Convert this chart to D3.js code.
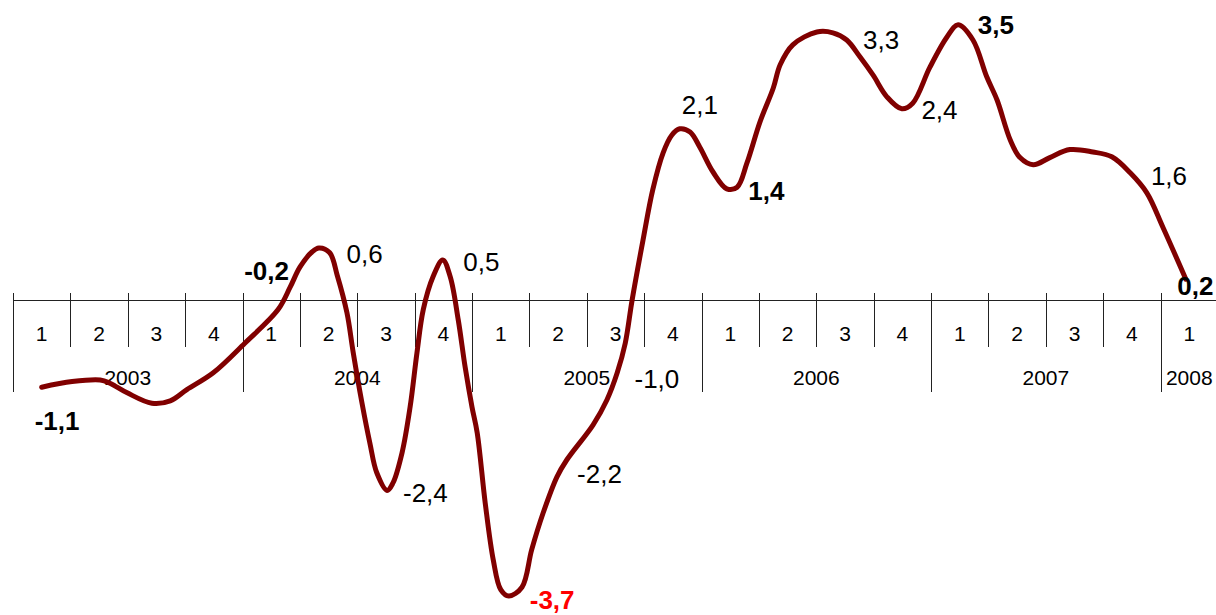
<!DOCTYPE html>
<html>
<head>
<meta charset="utf-8">
<script src="https://cdn.jsdelivr.net/npm/d3@7"></script>
<style>
  body { margin: 0; background: #fff; }
  svg { display: block; font-family: "Liberation Sans", Arial, sans-serif; }
</style>
</head>
<body>
<div id="chart"></div>
<script>
// years on the axis and how many quarters each one shows
const years = ["2003", "2004", "2005", "2006", "2007", "2008"];
const quartersPerYear = [4, 4, 4, 4, 4, 1];

// traced line: position in quarters from start of 2003, and value
const traceQ = [0.5, 1.03, 1.52, 1.69, 1.99, 2.42, 2.74, 3.03, 3.49, 4.04, 4.62, 4.83, 5.0, 5.21, 5.33,
  5.52, 5.65, 5.82, 5.93, 6.08, 6.22, 6.34, 6.52, 6.62, 6.78, 6.92, 7.04, 7.15, 7.32, 7.49,
  7.62, 7.76, 7.88, 8.0, 8.09, 8.23, 8.37, 8.5, 8.64, 8.87, 9.04, 9.24, 9.48, 9.65, 10.11,
  10.35, 10.53, 10.67, 10.79, 10.98, 11.15, 11.33, 11.48, 11.62, 11.8, 11.97, 12.2, 12.44, 12.62, 12.79,
  13.02, 13.25, 13.37, 13.59, 14.01, 14.29, 14.53, 14.76, 14.99, 15.23, 15.49, 15.68, 15.98, 16.28, 16.47,
  16.73, 16.97, 17.15, 17.38, 17.55, 17.78, 18.07, 18.42, 18.82, 19.15, 19.47, 19.76, 20.04, 20.44];
const traceV = [-1.09, -1.02, -1.0, -1.04, -1.16, -1.29, -1.26, -1.12, -0.91, -0.54, -0.12, 0.16, 0.41, 0.6, 0.65,
  0.59, 0.31, -0.16, -0.66, -1.28, -1.79, -2.16, -2.38, -2.29, -1.91, -1.34, -0.66, -0.12, 0.29, 0.5,
  0.29, -0.25, -0.84, -1.34, -1.66, -2.54, -3.25, -3.62, -3.7, -3.59, -3.12, -2.66, -2.21, -2.0, -1.56,
  -1.25, -0.91, -0.54, 0.0, 0.75, 1.38, 1.84, 2.06, 2.14, 2.1, 1.91, 1.6, 1.39, 1.41, 1.71,
  2.23, 2.65, 2.94, 3.19, 3.35, 3.34, 3.25, 3.04, 2.81, 2.54, 2.39, 2.46, 2.91, 3.29, 3.44,
  3.25, 2.79, 2.5, 2.0, 1.78, 1.69, 1.78, 1.88, 1.85, 1.79, 1.59, 1.34, 0.91, 0.26];

// quarterly values printed on the chart (quarter index from 2003 Q1)
const labelQuarter = [0, 4, 5, 6, 7, 8, 9, 10, 11, 12, 14, 15, 16, 19, 20];
const labelValue = [-1.1, -0.2, 0.6, -2.4, 0.5, -3.7, -2.2, -1.0, 2.1, 1.4, 3.3, 2.4, 3.5, 1.6, 0.2];

const width = 1216, height = 615;
const nQuarters = d3.sum(quartersPerYear);

const svg = d3.select("#chart").append("svg")
  .attr("width", width)
  .attr("height", height);

const x = d3.scaleLinear().domain([0, nQuarters]).range([13, 13 + nQuarters * 57.38]);
const y = d3.scaleLinear().domain([-3.75, 3.75]).range([600, 0]);

const fmt = d3.formatLocale({ decimal: ",", thousands: ".", grouping: [3], currency: ["", ""], minus: "-" }).format(".1f");

// --- axis ---
const axisY = y(0);
const axis = svg.append("g").attr("stroke", "#222").attr("stroke-width", 1);

axis.append("line")
  .attr("x1", x(0)).attr("x2", width)
  .attr("y1", axisY + 0.5).attr("y2", axisY + 0.5);

const yearStarts = d3.cumsum([0].concat(quartersPerYear)).slice(0, years.length);
const quarterIdx = d3.range(nQuarters);
const quarterNum = years.flatMap((yr, i) => d3.range(1, quartersPerYear[i] + 1));

axis.selectAll(".qtick")
  .data(quarterIdx.filter(q => !yearStarts.includes(q)))
  .enter().append("line")
  .attr("x1", d => Math.round(x(d)) + 0.5).attr("x2", d => Math.round(x(d)) + 0.5)
  .attr("y1", axisY - 7).attr("y2", axisY + 47);

axis.selectAll(".ytick")
  .data(yearStarts)
  .enter().append("line")
  .attr("x1", d => Math.round(x(d)) + 0.5).attr("x2", d => Math.round(x(d)) + 0.5)
  .attr("y1", axisY - 7).attr("y2", axisY + 92);

svg.append("g").selectAll("text")
  .data(quarterIdx)
  .enter().append("text")
  .attr("x", d => x(d + 0.5))
  .attr("y", axisY + 33 + 7.5)
  .attr("text-anchor", "middle")
  .attr("font-size", 21)
  .attr("fill", "#000")
  .text((d, i) => quarterNum[i]);

svg.append("g").selectAll("text")
  .data(years)
  .enter().append("text")
  .attr("x", (d, i) => x(yearStarts[i] + quartersPerYear[i] / 2))
  .attr("y", axisY + 77 + 7.5)
  .attr("text-anchor", "middle")
  .attr("font-size", 21)
  .attr("fill", "#000")
  .text(d => d);

// --- line ---
const line = d3.line()
  .x(d => x(d[0]))
  .y(d => y(d[1]))
  .curve(d3.curveCatmullRom.alpha(0.5));

svg.append("path")
  .datum(d3.zip(traceQ, traceV))
  .attr("fill", "none")
  .attr("stroke", "#800000")
  .attr("stroke-width", 5)
  .attr("stroke-linejoin", "round")
  .attr("stroke-linecap", "round")
  .attr("d", line);

// --- value labels ---
const boldLabels = [0, 1, 5, 9, 12, 14];
const redLabels = [5];
const labelDx = [-7, -27, 18, 17, 20, 29, 19, 19, 9, 18, 18, 19, 18, 19, -12];
const labelDy = [33, -45, 2, 1, 2, 4, -2, -1, -27, 3, 4, 2, 5, 4, 2];

svg.append("g").selectAll("text")
  .data(labelValue)
  .enter().append("text")
  .attr("x", (d, i) => x(labelQuarter[i] + 0.5) + labelDx[i])
  .attr("y", (d, i) => y(d) + labelDy[i] + 9.3)
  .attr("font-size", 26)
  .attr("font-weight", (d, i) => boldLabels.includes(i) ? "bold" : "normal")
  .attr("fill", (d, i) => redLabels.includes(i) ? "#ff0000" : "#000")
  .text(d => fmt(d));
</script>
</body>
</html>
